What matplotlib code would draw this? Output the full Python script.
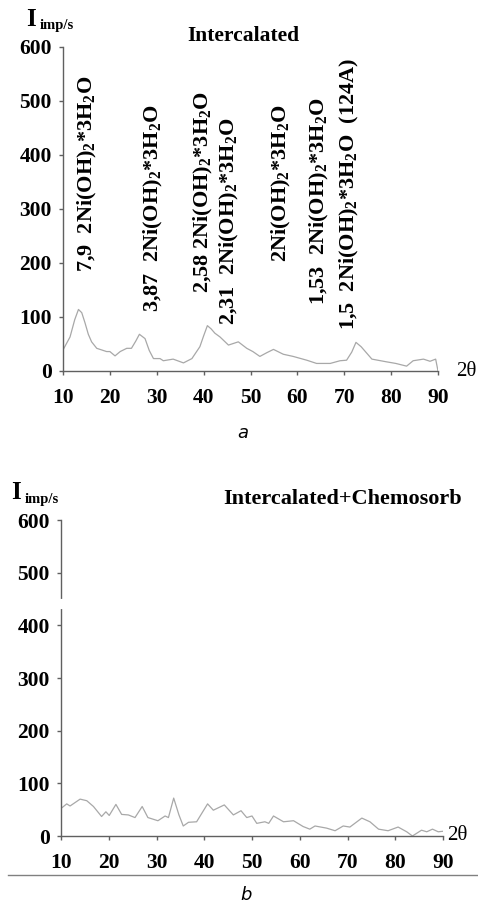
import matplotlib
matplotlib.use("Agg")
import matplotlib.pyplot as plt

plt.rcParams['mathtext.fontset'] = 'custom'
plt.rcParams['mathtext.rm'] = 'Liberation Serif:bold'
plt.rcParams['mathtext.it'] = 'Liberation Serif:bold'
plt.rcParams['mathtext.bf'] = 'Liberation Serif:bold'
plt.rcParams['mathtext.default'] = 'rm'

# Panel a: Intercalated
x_a = [10, 11.5, 12.5, 13.3, 14.0, 14.7, 15.4, 16.1, 17.2, 19.3, 20.0, 21.1, 22.2, 23.6,
       24.6, 25.5, 26.3, 27.5, 28.4, 29.3, 30.7, 31.4, 33.5, 35.7, 37.5, 39.2, 40.0,
       40.8, 41.6, 42.4, 43.5, 45.3, 47.4, 49.2, 50.5, 52.0, 53.5, 54.9, 57.0, 59.1,
       62.0, 64.1, 67.0, 69.1, 70.5, 71.6, 72.5, 73.6, 74.8, 75.9, 79.0, 81.0, 83.3,
       84.7, 86.9, 88.3, 89.5, 90]
y_a = [39, 63, 95, 114, 108, 89, 68, 54, 42, 36, 36, 28, 36, 42,
       42, 55, 68, 60, 38, 23, 23, 19, 22, 15, 23, 45, 65,
       84, 78, 70, 63, 48, 54, 42, 36, 27, 34, 40, 31, 27,
       20, 14, 14, 19, 20, 35, 53, 45, 33, 22, 17, 14, 9,
       19, 22, 18, 22, 0]

# Panel b: Intercalated+Chemosorb
x_b = [10.1, 11.2, 11.9, 14.0, 15.4, 16.8, 18.5, 19.4, 20.1, 21.5, 22.7, 24.1, 25.5, 27.0,
       28.2, 30.3, 31.8, 32.5, 33.6, 34.7, 35.6, 36.7, 38.4, 40.7, 41.9, 44.2, 46.1, 47.7,
       48.9, 50.0, 51.0, 52.7, 53.5, 54.5, 56.6, 58.7, 60.7, 62.1, 63.2, 65.6, 67.4, 69.1,
       70.5, 73.0, 74.7, 76.5, 78.5, 80.6, 82.4, 83.6, 85.5, 86.6, 87.8, 89.0, 90]
y_b = [53, 61, 57, 70, 67, 56, 37, 46, 39, 60, 41, 40, 35, 56,
       35, 29, 38, 35, 72, 40, 19, 26, 27, 61, 49, 59, 40, 48,
       35, 38, 24, 27, 24, 38, 27, 29, 18, 13, 19, 15, 10, 19,
       17, 34, 27, 13, 10, 17, 8, 0, 11, 8, 13, 8, 9]

x_ticks = [10, 20, 30, 40, 50, 60, 70, 80, 90]
y_ticks = [0, 100, 200, 300, 400, 500, 600]

peak_labels = ["7,9  2Ni(OH)$_2$*3H$_2$O", "3,87  2Ni(OH)$_2$*3H$_2$O",
               "2,58 2Ni(OH)$_2$*3H$_2$O", "2,31  2Ni(OH)$_2$*3H$_2$O",
               "2Ni(OH)$_2$*3H$_2$O", "1,53  2Ni(OH)$_2$*3H$_2$O",
               "1,5  2Ni(OH)$_2$*3H$_2$O  (124A)"]
peak_x = [15.3, 29.2, 39.9, 45.6, 56.7, 64.8, 71.2]
peak_y = [183, 109, 144, 85, 202, 122, 76]

W, H = 478, 905
fig = plt.figure(figsize=(W / 100, H / 100), dpi=100)

serif = 'Liberation Serif'
axcol = '#606060'
linecol = '#a8a8a8'


def setup(ax):
    ax.set_xlim(10, 90)
    ax.set_ylim(0, 600)
    ax.set_xticks(x_ticks)
    ax.set_yticks(y_ticks)
    for s in ['top', 'right']:
        ax.spines[s].set_visible(False)
    for s in ['left', 'bottom']:
        ax.spines[s].set_color(axcol)
        ax.spines[s].set_linewidth(1.0)
    ax.tick_params(direction='out', length=3, width=1, color=axcol, pad=5)
    ax.tick_params(axis='x', pad=9)
    for lab in ax.get_xticklabels() + ax.get_yticklabels():
        lab.set_fontfamily(serif)
        lab.set_fontweight('bold')
        lab.set_fontsize(15.5)
    ax.patch.set_alpha(0)


# Panel a
ax1 = fig.add_axes([63 / W, (H - 371) / H, 375 / W, 324 / H])
ax1.plot(x_a, y_a, color=linecol, lw=0.9)
setup(ax1)
for t, px, py in zip(peak_labels, peak_x, peak_y):
    ax1.text(px, py, t, rotation=90, ha='center', va='bottom', fontfamily=serif,
             fontweight='bold', fontsize=16)

fig.text(243 / W, 1 - 36 / H, "Intercalated", ha='center', va='center',
         fontfamily=serif, fontweight='bold', fontsize=15.5)
fig.text(26 / W, 1 - 19 / H, "I", ha='left', va='center', fontfamily=serif,
         fontweight='bold', fontsize=18)
fig.text(40 / W, 1 - 26 / H, "imp/s", ha='left', va='center', fontfamily=serif,
         fontweight='bold', fontsize=10.5)
fig.text(456 / W, 1 - 371 / H, "2θ", ha='left', va='center', fontfamily=serif,
         fontsize=15)
fig.text(243 / W, 1 - 433 / H, "a", ha='center', va='center', fontfamily='DejaVu Sans',
         style='italic', fontsize=13)

# Panel b
ax2 = fig.add_axes([61 / W, (H - 836) / H, 382 / W, 316 / H])
ax2.plot(x_b, y_b, color=linecol, lw=0.9)
setup(ax2)
# axis break on the left spine between 400 and 500
ax2.plot([10, 10], [434, 446], color='white', lw=3, transform=ax2.transData,
         clip_on=False, zorder=5)

fig.text(343 / W, 1 - 499 / H, "Intercalated+Chemosorb", ha='center', va='center',
         fontfamily=serif, fontweight='bold', fontsize=16)
fig.text(11 / W, 1 - 492 / H, "I", ha='left', va='center', fontfamily=serif,
         fontweight='bold', fontsize=18)
fig.text(25 / W, 1 - 499 / H, "imp/s", ha='left', va='center', fontfamily=serif,
         fontweight='bold', fontsize=10.5)
fig.text(447 / W, 1 - 835 / H, "2θ", ha='left', va='center', fontfamily=serif,
         fontsize=15)

fig.add_artist(plt.Line2D([8 / W, 1.0], [1 - 875 / H, 1 - 875 / H], color='#808080',
                          lw=1, transform=fig.transFigure))
fig.text(246 / W, 1 - 895 / H, "b", ha='center', va='center', fontfamily='DejaVu Sans',
         style='italic', fontsize=13)

fig.savefig("out.png", dpi=100)
